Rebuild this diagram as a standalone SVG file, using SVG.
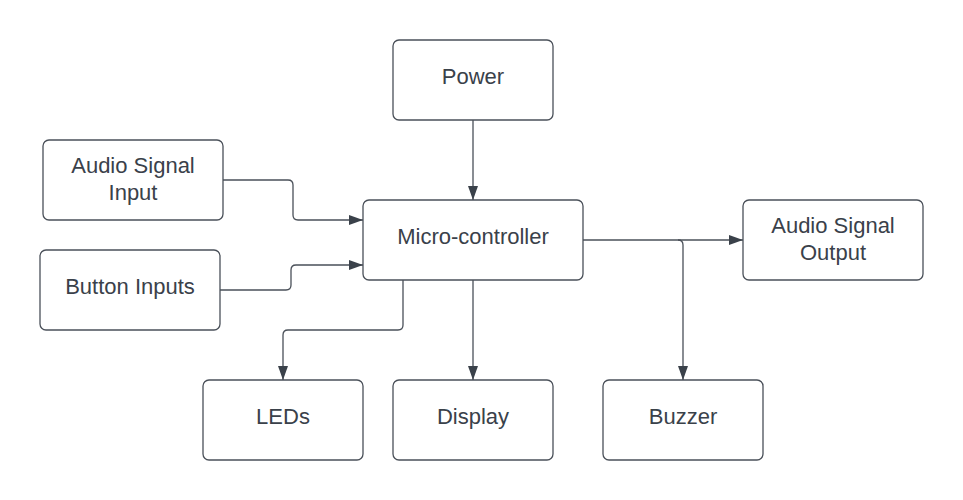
<svg xmlns="http://www.w3.org/2000/svg" width="963" height="500" viewBox="0 0 963 500">
<defs>
<marker id="ah" markerWidth="14" markerHeight="10" refX="14" refY="5" orient="auto" markerUnits="userSpaceOnUse">
<path d="M0,0 L14,5 L0,10 Z" fill="#3a414a"/>
</marker>
</defs>
<style>
.box{fill:#ffffff;stroke:#4a5059;stroke-width:1.3}
.lbl{font-family:"Liberation Sans",Arial,sans-serif;font-size:22px;fill:#3a414a;text-anchor:middle}
.c{fill:none;stroke:#4a5059;stroke-width:1.3;marker-end:url(#ah)}
</style>
<rect width="963" height="500" fill="#ffffff"/>
<g id="connectors">
<path class="c" d="M473,120 L473,200"/>
<path class="c" d="M223,180 L288,180 Q293,180 293,185 L293,215 Q293,220 298,220 L363,220"/>
<path class="c" d="M220,290 L286,290 Q291,290 291,285 L291,270 Q291,265 296,265 L363,265"/>
<path class="c" d="M403,280 L403,325 Q403,330 398,330 L288,330 Q283,330 283,335 L283,380"/>
<path class="c" d="M473,280 L473,380"/>
<path class="c" d="M583,240 L743,240"/>
<path class="c" d="M678,240 Q683,240 683,245 L683,380"/>
</g>
<g id="power"><rect class="box" x="393" y="40" width="160" height="80" rx="6"/><text class="lbl" x="473" y="84">Power</text></g>
<g id="audio-input"><rect class="box" x="43" y="140" width="180" height="80" rx="6"/><text class="lbl" x="133" y="173">Audio Signal</text><text class="lbl" x="133" y="200">Input</text></g>
<g id="button-inputs"><rect class="box" x="40" y="250" width="180" height="80" rx="6"/><text class="lbl" x="130" y="294">Button Inputs</text></g>
<g id="micro"><rect class="box" x="363" y="200" width="220" height="80" rx="6"/><text class="lbl" x="473" y="244">Micro-controller</text></g>
<g id="audio-output"><rect class="box" x="743" y="200" width="180" height="80" rx="6"/><text class="lbl" x="833" y="233">Audio Signal</text><text class="lbl" x="833" y="260">Output</text></g>
<g id="leds"><rect class="box" x="203" y="380" width="160" height="80" rx="6"/><text class="lbl" x="283" y="424">LEDs</text></g>
<g id="display"><rect class="box" x="393" y="380" width="160" height="80" rx="6"/><text class="lbl" x="473" y="424">Display</text></g>
<g id="buzzer"><rect class="box" x="603" y="380" width="160" height="80" rx="6"/><text class="lbl" x="683" y="424">Buzzer</text></g>
</svg>
